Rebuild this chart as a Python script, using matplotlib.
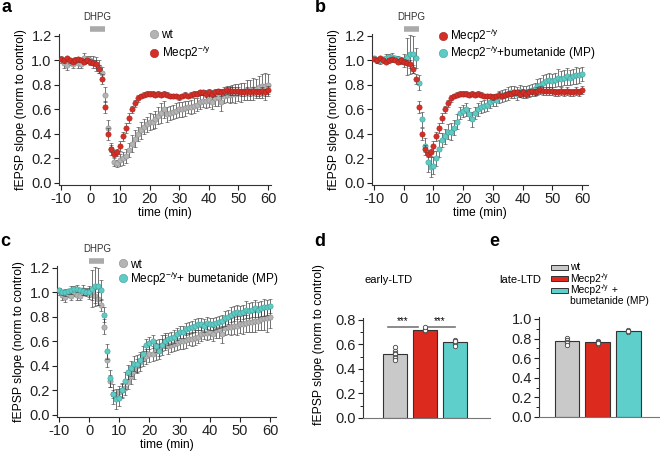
import matplotlib.pyplot as plt
import numpy as np
from matplotlib.lines import Line2D
from matplotlib.patches import Rectangle
from matplotlib.ticker import MultipleLocator, FormatStrFormatter

plt.rcParams['font.family'] = ['Liberation Sans', 'DejaVu Sans']
plt.rcParams['axes.unicode_minus'] = False

# time course, one point per minute
time = np.arange(-10, 61)

wt_mean = [1.01, 0.98, 0.96, 0.99, 0.97, 1.00, 0.98, 0.97, 1.02, 1.01,
           1.00, 0.99, 0.97, 0.95, 0.90, 0.72, 0.45, 0.28, 0.17, 0.16,
           0.19, 0.20, 0.22, 0.27, 0.32, 0.36, 0.40, 0.43, 0.46, 0.48,
           0.50, 0.50, 0.52, 0.55, 0.57, 0.60, 0.56, 0.57, 0.58, 0.59,
           0.60, 0.60, 0.61, 0.62, 0.62, 0.63, 0.64, 0.66, 0.67, 0.67,
           0.68, 0.66, 0.69, 0.70, 0.66, 0.71, 0.72, 0.72, 0.73, 0.73,
           0.74, 0.74, 0.75, 0.76, 0.76, 0.77, 0.77, 0.78, 0.79, 0.79,
           0.80]
wt_sem = [0.03, 0.04, 0.04, 0.03, 0.03, 0.03, 0.04, 0.03, 0.04, 0.03,
          0.04, 0.05, 0.06, 0.05, 0.05, 0.06, 0.06, 0.05, 0.03, 0.03,
          0.05, 0.05, 0.06, 0.06, 0.07, 0.07, 0.06, 0.07, 0.06, 0.06,
          0.07, 0.06, 0.07, 0.07, 0.08, 0.07, 0.06, 0.06, 0.06, 0.06,
          0.06, 0.06, 0.06, 0.05, 0.06, 0.06, 0.05, 0.06, 0.05, 0.06,
          0.06, 0.06, 0.06, 0.07, 0.07, 0.06, 0.06, 0.07, 0.07, 0.08,
          0.07, 0.08, 0.07, 0.08, 0.08, 0.09, 0.08, 0.09, 0.10, 0.11,
          0.09]

mecp2_mean = [1.01, 1.00, 1.02, 1.00, 0.99, 1.00, 1.01, 1.00, 0.99, 1.00,
              0.99, 0.98, 0.97, 0.93, 0.85, 0.62, 0.40, 0.28, 0.24, 0.25,
              0.30, 0.38, 0.45, 0.53, 0.60, 0.65, 0.69, 0.71, 0.72, 0.73,
              0.73, 0.73, 0.72, 0.73, 0.72, 0.73, 0.72, 0.71, 0.71, 0.71,
              0.70, 0.71, 0.72, 0.71, 0.72, 0.73, 0.73, 0.74, 0.74, 0.73,
              0.74, 0.73, 0.74, 0.75, 0.74, 0.75, 0.76, 0.75, 0.75, 0.75,
              0.75, 0.74, 0.74, 0.75, 0.74, 0.75, 0.74, 0.74, 0.75, 0.74,
              0.76]
mecp2_sem = [0.01, 0.02, 0.01, 0.02, 0.01, 0.02, 0.02, 0.01, 0.02, 0.02,
             0.02, 0.02, 0.03, 0.03, 0.04, 0.05, 0.05, 0.03, 0.03, 0.03,
             0.04, 0.04, 0.04, 0.04, 0.03, 0.03, 0.03, 0.02, 0.02, 0.02,
             0.02, 0.02, 0.02, 0.02, 0.02, 0.02, 0.02, 0.02, 0.02, 0.02,
             0.02, 0.02, 0.02, 0.02, 0.02, 0.02, 0.02, 0.02, 0.02, 0.03,
             0.03, 0.03, 0.03, 0.02, 0.03, 0.03, 0.03, 0.03, 0.03, 0.03,
             0.03, 0.03, 0.03, 0.03, 0.03, 0.03, 0.03, 0.03, 0.03, 0.03,
             0.03]

bum_mean = [1.02, 1.00, 1.00, 1.01, 1.02, 1.03, 1.03, 1.02, 1.01, 1.00,
            1.00, 1.03, 1.05, 1.05, 1.02, 0.82, 0.52, 0.30, 0.17, 0.13,
            0.14, 0.20, 0.28, 0.35, 0.38, 0.42, 0.42, 0.45, 0.50, 0.57,
            0.59, 0.60, 0.56, 0.52, 0.57, 0.60, 0.62, 0.63, 0.64, 0.66,
            0.68, 0.68, 0.70, 0.71, 0.72, 0.73, 0.74, 0.74, 0.73, 0.75,
            0.74, 0.74, 0.75, 0.76, 0.77, 0.79, 0.80, 0.82, 0.83, 0.84,
            0.83, 0.84, 0.86, 0.85, 0.86, 0.87, 0.86, 0.87, 0.88, 0.88,
            0.89]
bum_sem = [0.02, 0.02, 0.03, 0.02, 0.03, 0.02, 0.03, 0.02, 0.03, 0.03,
           0.05, 0.15, 0.16, 0.15, 0.08, 0.06, 0.06, 0.07, 0.08, 0.08,
           0.07, 0.06, 0.07, 0.06, 0.06, 0.06, 0.07, 0.06, 0.06, 0.05,
           0.05, 0.05, 0.05, 0.06, 0.05, 0.05, 0.05, 0.05, 0.05, 0.05,
           0.05, 0.05, 0.05, 0.05, 0.05, 0.05, 0.05, 0.05, 0.05, 0.05,
           0.05, 0.05, 0.05, 0.05, 0.05, 0.06, 0.06, 0.06, 0.06, 0.06,
           0.06, 0.06, 0.07, 0.06, 0.06, 0.07, 0.06, 0.06, 0.07, 0.06,
           0.06]

# bar panels: (label, superscript, tail) for the legend of e
SUP = r'$^{\mathregular{-/y}}$'
groups = [('wt', '', ''), ('Mecp2', '-/y', ''), ('Mecp2', '-/y', ' +')]
early_mean = [0.52, 0.72, 0.62]
early_points = [[0.58, 0.55, 0.53, 0.52, 0.50, 0.49, 0.47],
                [0.72, 0.73, 0.71, 0.72, 0.74],
                [0.64, 0.62, 0.61, 0.60, 0.63, 0.59]]
late_mean = [0.78, 0.76, 0.88]
late_points = [[0.81, 0.79, 0.77, 0.75, 0.73],
               [0.78, 0.76, 0.74, 0.75],
               [0.89, 0.87, 0.88]]

GRAY, RED, CYAN = '#b4b4b4', '#d42f27', '#5fcbc5'
BAR_COLORS = ['#c9c9c9', '#dc2a1e', '#5ecfca']
EDGES = {GRAY: '#8a8a8a', RED: '#a8201a', CYAN: '#3c9e98'}

W, H = 660, 451
fig = plt.figure(figsize=(W / 100, H / 100), dpi=100)


def style_axes(ax):
    for s in ['top', 'right']:
        ax.spines[s].set_visible(False)
    for s in ['left', 'bottom']:
        ax.spines[s].set_linewidth(0.8)
        ax.spines[s].set_color('#333333')
    ax.tick_params(direction='out', length=3.5, width=0.8, labelsize=10.5,
                   colors='#222222', pad=1.5)


def time_panel(rect, series, xmax):
    ax = fig.add_axes(rect)
    for (mean, sem, color, z) in series:
        ax.errorbar(time, mean, yerr=sem, fmt='o', ms=3.8, mfc=color,
                    mec=EDGES[color], mew=0.4, ecolor='#3a3a3a',
                    elinewidth=0.5, capsize=1.2, capthick=0.5, zorder=z)
    style_axes(ax)
    ax.set_xlim(-10.7, xmax)
    ax.set_ylim(-0.015, 1.22)
    ax.set_xticks(np.arange(-10, 61, 10))
    ax.set_yticks(np.arange(0, 1.21, 0.2))
    ax.yaxis.set_major_formatter(FormatStrFormatter('%.1f'))
    ax.set_xlabel('time (min)', fontsize=8.7, labelpad=1)
    ax.set_ylabel('fEPSP slope (norm to control)', fontsize=8.7, labelpad=3)
    # DHPG application bar
    ax.plot([0, 5], [1.255, 1.255], color='#aaaaaa', lw=4, clip_on=False,
            solid_capstyle='butt')
    ax.text(2.5, 1.31, 'DHPG', ha='center', va='bottom', fontsize=7,
            color='#333333', clip_on=False)
    handles = [Line2D([], [], ls='none', marker='o', ms=6, mfc=c,
                      mec=EDGES[c], mew=0.4) for (_, _, c, _) in series]
    return ax, handles


LEG = dict(loc='upper left', frameon=False, fontsize=8.5, handletextpad=0.0,
           borderpad=0, handlelength=1.2)

# a
ax, h = time_panel([0.0888, 0.5902, 0.3218, 0.3355],
                   [(wt_mean, wt_sem, GRAY, 2), (mecp2_mean, mecp2_sem, RED, 3)],
                   61)
ax.legend(h, ['wt', 'Mecp2' + SUP], bbox_to_anchor=(0.39, 1.07),
          labelspacing=0.25, **LEG)

# b
ax, h = time_panel([0.5636, 0.5902, 0.3273, 0.3355],
                   [(bum_mean, bum_sem, CYAN, 2), (mecp2_mean, mecp2_sem, RED, 3)],
                   62)
ax.legend(h[::-1], ['Mecp2' + SUP, 'Mecp2' + SUP + '+bumetanide (MP)'],
          bbox_to_anchor=(0.27, 1.085), labelspacing=-0.1, **LEG)

# c
ax, h = time_panel([0.0864, 0.0758, 0.3318, 0.3355],
                   [(wt_mean, wt_sem, GRAY, 2), (bum_mean, bum_sem, CYAN, 3)],
                   62)
ax.legend(h, ['wt', 'Mecp2' + SUP + '+ bumetanide (MP)'],
          bbox_to_anchor=(0.24, 1.085), labelspacing=-0.1, **LEG)


def bar_panel(rect, means, points, ymax, xlim):
    ax = fig.add_axes(rect)
    x = np.arange(len(means))
    ax.bar(x, means, width=0.8, color=BAR_COLORS, edgecolor='#333333',
           linewidth=0.8, zorder=2)
    for xi, pts in zip(x, points):
        ax.scatter(np.full(len(pts), xi), pts, s=10, facecolor='white',
                   edgecolor='#444444', linewidth=0.6, zorder=3)
    style_axes(ax)
    ax.spines['bottom'].set_color('#777777')
    ax.set_xticks([])
    ax.set_xlim(*xlim)
    ax.set_ylim(0, ymax)
    ax.yaxis.set_major_locator(MultipleLocator(0.2))
    ax.yaxis.set_minor_locator(MultipleLocator(0.1))
    ax.tick_params(axis='y', which='minor', length=2, width=0.6)
    ax.yaxis.set_major_formatter(FormatStrFormatter('%.1f'))
    return ax


# d
ax = bar_panel([0.55, 0.0732, 0.1924, 0.2228], early_mean, early_points,
               0.82, (-1.07, 3.17))
ax.set_ylabel('fEPSP slope (norm to control)', fontsize=8.7)
ax.yaxis.set_label_coords(-0.30, 0.73)
fig.text(365 / W, 1 - 280 / H, 'early-LTD', fontsize=8, ha='left', va='center')
for (x0, x1) in [(-0.25, 0.75), (1.0, 2.0)]:
    ax.plot([x0, x1], [0.743, 0.743], color='#777777', lw=1.2, clip_on=False)
    ax.text((x0 + x1) / 2, 0.75, '***', ha='center', va='bottom', fontsize=7)

# e
ax = bar_panel([0.8167, 0.0754, 0.1833, 0.2217], late_mean, late_points,
               1.02, (-0.91, 3.03))
fig.text(499 / W, 1 - 280 / H, 'late-LTD', fontsize=8, ha='left', va='center')
LSIZE = 7.4
for i, ((base, sup, tail), color) in enumerate(zip(groups, BAR_COLORS)):
    yc = 267 + 11.5 * i
    fig.add_artist(Rectangle((551 / W, 1 - (yc + 2.5) / H), 17 / W, 5 / H,
                             transform=fig.transFigure, facecolor=color,
                             edgecolor='#333333', linewidth=0.7))
    t = fig.text(570 / W, 1 - yc / H, base, fontsize=LSIZE, ha='left',
                 va='center')
    if sup:
        s = ax.annotate(sup, xy=(1, 1), xycoords=t, xytext=(0.2, 0.4),
                        textcoords='offset points', fontsize=4.8,
                        ha='left', va='top', annotation_clip=False)
        if tail:
            ax.annotate(tail, xy=(1, 0), xycoords=(s, t), fontsize=LSIZE,
                        ha='left', va='bottom', annotation_clip=False)
fig.text(570 / W, 1 - (267 + 11.5 * 3) / H, 'bumetanide (MP)',
         fontsize=LSIZE, ha='left', va='center')

# panel letters
for (px, py, letter) in [(6, 8, 'a'), (320, 8, 'b'), (5, 241, 'c'),
                         (320, 241, 'd'), (494, 241, 'e')]:
    fig.text(px / W, 1 - py / H, letter, fontsize=13, fontweight='bold',
             ha='center', va='center')

fig.savefig('out.png', dpi=100)
